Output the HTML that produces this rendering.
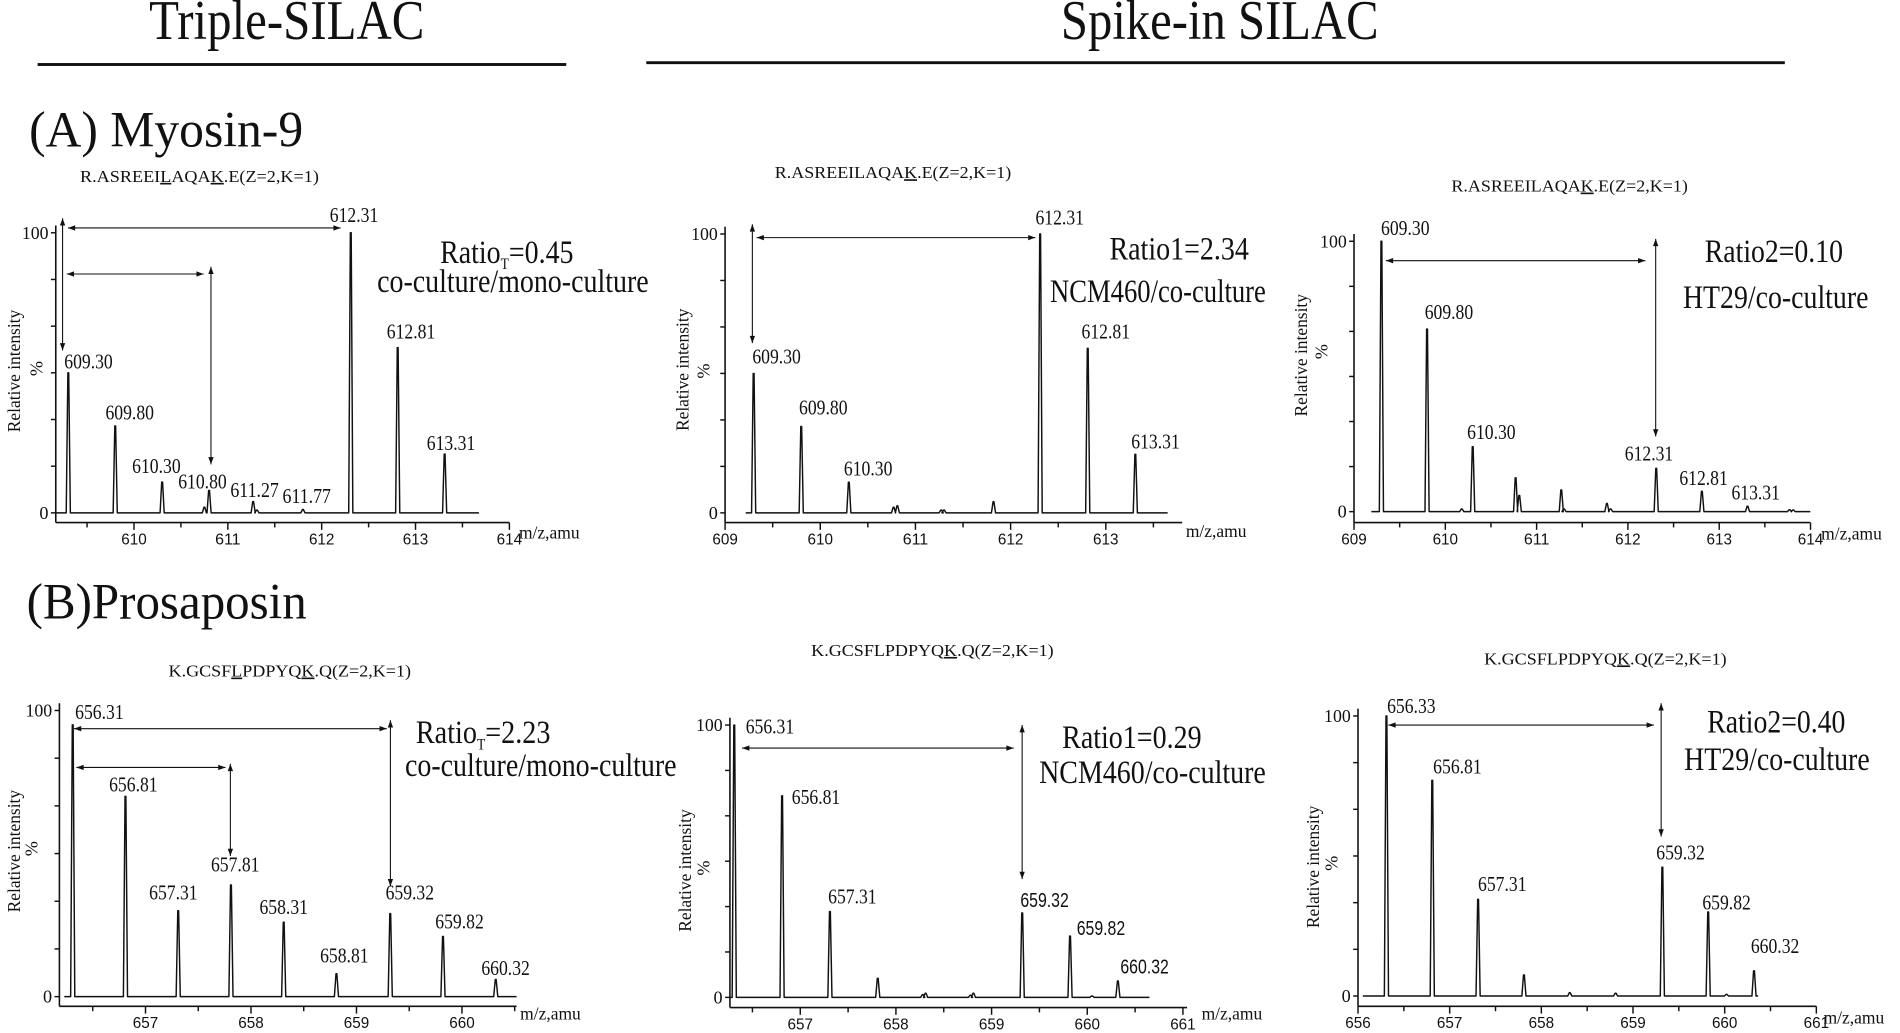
<!DOCTYPE html>
<html><head><meta charset="utf-8"><style>
html,body{margin:0;padding:0;background:#fff;}
svg{display:block}
text{fill:#111}
.s{font-family:"Liberation Serif",serif}
.a{font-family:"Liberation Sans",sans-serif}
</style></head><body>
<svg id="c" xmlns="http://www.w3.org/2000/svg" width="1900" height="1033" viewBox="0 0 1567 852" preserveAspectRatio="none">
<rect width="1567" height="852" fill="#fff"/>
<text class="s" x="123" y="32" font-size="46" textLength="227" lengthAdjust="spacingAndGlyphs">Triple-SILAC</text>
<rect x="31" y="52" width="436" height="2.4" fill="#111"/>
<text class="s" x="875" y="32" font-size="46" textLength="262" lengthAdjust="spacingAndGlyphs">Spike-in SILAC</text>
<rect x="533" y="50.5" width="939" height="2.4" fill="#111"/>
<text class="s" x="24" y="121" font-size="42" textLength="226" lengthAdjust="spacingAndGlyphs">(A) Myosin-9</text>
<text class="s" x="22" y="510" font-size="42" textLength="231" lengthAdjust="spacingAndGlyphs">(B)Prosaposin</text>

<text class="s" x="66" y="150" font-size="13.5" textLength="197" lengthAdjust="spacingAndGlyphs">R.ASREEI<tspan text-decoration="underline">L</tspan>AQA<tspan text-decoration="underline">K</tspan>.E(Z=2,K=1)</text>
<text class="s" x="639" y="147" font-size="13.5" textLength="195" lengthAdjust="spacingAndGlyphs">R.ASREEILAQA<tspan text-decoration="underline">K</tspan>.E(Z=2,K=1)</text>
<text class="s" x="1197" y="158" font-size="13.5" textLength="195" lengthAdjust="spacingAndGlyphs">R.ASREEILAQA<tspan text-decoration="underline">K</tspan>.E(Z=2,K=1)</text>
<text class="s" x="139" y="558" font-size="13.5" textLength="200" lengthAdjust="spacingAndGlyphs">K.GCSF<tspan text-decoration="underline">L</tspan>PDPYQ<tspan text-decoration="underline">K</tspan>.Q(Z=2,K=1)</text>
<text class="s" x="669" y="541" font-size="13.5" textLength="200" lengthAdjust="spacingAndGlyphs">K.GCSFLPDPYQ<tspan text-decoration="underline">K</tspan>.Q(Z=2,K=1)</text>
<text class="s" x="1224" y="548" font-size="13.5" textLength="200" lengthAdjust="spacingAndGlyphs">K.GCSFLPDPYQ<tspan text-decoration="underline">K</tspan>.Q(Z=2,K=1)</text>

<text class="s" x="363" y="217" font-size="27" textLength="110" lengthAdjust="spacingAndGlyphs">Ratio<tspan font-size="13" dy="5">T</tspan><tspan dy="-5">=0.45</tspan></text>
<text class="s" x="311" y="241" font-size="27" textLength="224" lengthAdjust="spacingAndGlyphs">co-culture/mono-culture</text>
<text class="s" x="915" y="214" font-size="27" textLength="115" lengthAdjust="spacingAndGlyphs">Ratio1=2.34</text>
<text class="s" x="866" y="249" font-size="27" textLength="178" lengthAdjust="spacingAndGlyphs">NCM460/co-culture</text>
<text class="s" x="1406" y="216" font-size="27" textLength="114" lengthAdjust="spacingAndGlyphs">Ratio2=0.10</text>
<text class="s" x="1388" y="254" font-size="27" textLength="153" lengthAdjust="spacingAndGlyphs">HT29/co-culture</text>
<text class="s" x="343" y="613" font-size="27" textLength="111" lengthAdjust="spacingAndGlyphs">Ratio<tspan font-size="13" dy="5">T</tspan><tspan dy="-5">=2.23</tspan></text>
<text class="s" x="334" y="640" font-size="27" textLength="224" lengthAdjust="spacingAndGlyphs">co-culture/mono-culture</text>
<text class="s" x="876" y="617" font-size="27" textLength="115" lengthAdjust="spacingAndGlyphs">Ratio1=0.29</text>
<text class="s" x="857" y="646" font-size="27" textLength="187" lengthAdjust="spacingAndGlyphs">NCM460/co-culture</text>
<text class="s" x="1408" y="604" font-size="27" textLength="114" lengthAdjust="spacingAndGlyphs">Ratio2=0.40</text>
<text class="s" x="1389" y="635" font-size="27" textLength="153" lengthAdjust="spacingAndGlyphs">HT29/co-culture</text>
<g id="g"></g>
</svg>
<script>
let out='';
function L(x1,y1,x2,y2,w){out+=`<line x1="${x1}" y1="${y1}" x2="${x2}" y2="${y2}" stroke="#111" stroke-width="${w||1}"/>`;}
function T(x,y,t,o){o=o||{};out+=`<text class="${o.c||'s'}" x="${x}" y="${y}" font-size="${o.fs||15}" text-anchor="${o.an||'start'}"${o.tl?` textLength="${o.tl}" lengthAdjust="spacingAndGlyphs"`:''}${o.tr?` transform="${o.tr}"`:''}>${t}</text>`;}
function head(x,y,dx,dy){const l=6,w=2.2;const px=-dy,py=dx;
 out+=`<polygon points="${x},${y} ${x-dx*l+px*w},${y-dy*l+py*w} ${x-dx*l-px*w},${y-dy*l-py*w}" fill="#111"/>`;}
function A(x1,y1,x2,y2){L(x1,y1,x2,y2,0.9);const d=Math.hypot(x2-x1,y2-y1),dx=(x2-x1)/d,dy=(y2-y1)/d;head(x2,y2,dx,dy);head(x1,y1,-dx,-dy);}
function P(p){
 const X=m=>p.x0+(m-p.m0)*p.k, Y=v=>p.y0-(p.y0-p.y100)*v/100;
 L(p.ax,p.y100-6,p.ax,p.yax,1.3);
 for(let i=0;i<=6;i++){const y=Y(i*100/6);L(p.ax-4,y,p.ax,y,1.2);}
 T(p.ax-6,Y(100)+5,'100',{fs:15,an:'end',tl:22});
 T(p.ax-6,p.y0+5,'0',{fs:15,an:'end'});
 L(p.ax,p.yax,p.xe,p.yax,1.3);
 const ma=p.m0+(p.ax-p.x0)/p.k, me=p.m0+(p.xe-p.x0)/p.k;
 for(let m=Math.ceil(ma*2-0.01)/2;m<=me+0.01;m+=0.5){const x=X(m);const maj=Math.abs(m-Math.round(m))<0.01;L(x,p.yax,x,p.yax+(maj?6:4),1.2);}
 p.tl.forEach(v=>T(X(v),p.yax+18,String(v),{c:'a',fs:13,an:'middle',tl:21}));
 T(p.mz[0],p.mz[1],'m/z,amu',{fs:15,tl:50});
 let pk=p.pk.slice().sort((a,b)=>a[0]-b[0]);
 let d=`M${p.b0},${p.y0}`;
 pk.forEach(([m,h])=>{const x=X(m),t=Y(h);d+=` L${x-1.7},${p.y0} L${x-0.35},${t} L${x+0.35},${t} L${x+1.7},${p.y0}`;});
 d+=` L${p.b1},${p.y0}`;
 out+=`<path d="${d}" fill="none" stroke="#111" stroke-width="1.2" stroke-linejoin="round"/>`;
 p.lab.forEach(l=>T(l[1],l[2],l[0],{fs:17,c:l[3]||'s',tl:40}));
 p.ar.forEach(a=>A(...a));
 T(p.yl[0],p.yl[1],'Relative intensity',{fs:15,an:'middle',tl:101,tr:`rotate(-90 ${p.yl[0]} ${p.yl[1]})`});
 T(p.pc[0],p.pc[1],'%',{fs:15,an:'middle',tr:`rotate(-90 ${p.pc[0]} ${p.pc[1]})`});
}
P({ax:46,x0:110.5,m0:610,k:77.4,y0:423,y100:192,yax:431,xe:420,tl:[610,611,612,613,614],b0:46,b1:395,mz:[428,444],
 pk:[[609.30,50],[609.80,31],[610.30,11],[610.75,2],[610.80,8],[611.27,4],[611.31,1],[611.80,1.2],[612.31,100],[612.81,59],[613.31,21]],
 lab:[['612.31',272,183],['609.30',53,304],['609.80',87,346],['610.30',109,390],['610.80',147,403],['611.27',190,410],['611.77',233,415],['612.81',319,279],['613.31',352,371]],
 ar:[[51.6,180,51.6,289],[56,188,281,188],[55,226,168,226],[174,220,174,383]],yl:[16.5,306],pc:[35,304]});
P({ax:598,x0:598,m0:609,k:78.5,y0:423,y100:193,yax:431,xe:975,tl:[609,610,611,612,613],b0:615,b1:963,mz:[978,443],
 pk:[[609.30,50],[609.80,31],[610.30,11],[610.77,2],[610.81,2.5],[611.27,1],[611.30,1],[611.82,4],[612.31,100],[612.81,59],[613.31,21]],
 lab:[['612.31',854,185],['609.30',620.5,300],['609.80',659,342],['610.30',696,392],['612.81',892,279],['613.31',933,370]],
 ar:[[620.5,185,620.5,283],[624,196,854,196]],yl:[568,305],pc:[585,306]});
P({ax:1116.7,x0:1116.7,m0:609,k:75.3,y0:422,y100:199,yax:431,xe:1493,tl:[609,610,611,612,613,614],b0:1131,b1:1493,mz:[1502,445],
 pk:[[609.30,100],[609.80,67.5],[610.18,1],[610.30,24],[610.77,12.5],[610.81,6],[611.27,8],[611.30,1],[611.77,3],[611.81,1],[612.31,16],[612.81,7.5],[613.31,2],[613.77,0.7],[613.81,0.6]],
 lab:[['609.30',1139,194],['609.80',1175,263],['610.30',1210,362],['612.31',1340,380],['612.81',1385,400],['613.31',1428,412]],
 ar:[[1143,215,1357,215],[1365.5,197,1365.5,360]],yl:[1078,293],pc:[1095,290]});
P({ax:49,x0:120,m0:657,k:87,y0:822,y100:586,yax:830,xe:426,tl:[657,658,659,660],b0:53,b1:426,mz:[429,841],
 pk:[[656.31,95],[656.81,70],[657.31,30],[657.81,39],[658.31,26],[658.81,8],[659.32,29],[659.82,21],[660.32,6]],
 lab:[['656.31',62,593],['656.81',90,653],['657.31',123,742],['657.81',174,719],['658.31',214,754],['658.81',264,794],['659.32',318,742],['659.82',359,766],['660.32',397,804]],
 ar:[[61,601,319,601],[322,594,322,731],[63,633,186,633],[190,630,190,706]],yl:[16.5,702],pc:[31,700]});
P({ax:602,x0:660,m0:657,k:78.9,y0:822.6,y100:598,yax:831,xe:979,tl:[657,658,659,660,661],b0:602,b1:948,mz:[991,841],
 pk:[[656.31,100],[656.81,74],[657.31,31.5],[657.81,7],[658.28,1],[658.31,1.5],[658.78,0.8],[658.81,1.5],[659.32,31],[659.82,22.5],[660.05,0.5],[660.32,6]],
 lab:[['656.31',615,605],['656.81',653,663],['657.31',683,745],['659.32',841.5,748,'a'],['659.82',888,771,'a'],['660.32',924,803,'a']],
 ar:[[612,617,836,617],[843,598,843,725]],yl:[570,718],pc:[585,716]});
P({ax:1120,x0:1120,m0:656,k:75.6,y0:821.5,y100:590.5,yax:830,xe:1498,tl:[656,657,658,659,660,661],b0:1124,b1:1450,mz:[1504,844],
 pk:[[656.31,100],[656.81,77],[657.31,34.5],[657.81,7.5],[658.31,1.2],[658.81,1],[659.32,46],[659.82,30],[660.02,0.6],[660.32,9]],
 lab:[['656.33',1144,588],['656.81',1182,638],['657.31',1219,735],['659.32',1366,709],['659.82',1404,750],['660.32',1444,786]],
 ar:[[1145,598,1364,598],[1370,580,1370,690]],yl:[1088,715],pc:[1103,712]});
document.getElementById('g').innerHTML=out;
</script>
</body></html>
